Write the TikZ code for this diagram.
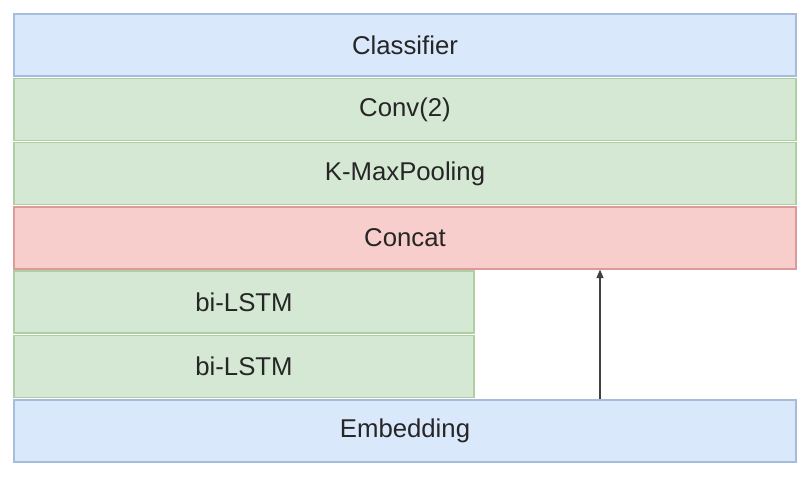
\documentclass[tikz,border=0pt]{standalone}
\usepackage{fontspec}
\setmainfont{Liberation Sans}
\usetikzlibrary{arrows.meta}

\definecolor{bluefill}{HTML}{DAE8FC}
\definecolor{blueline}{HTML}{A7BCDA}
\definecolor{greenfill}{HTML}{D5E8D4}
\definecolor{greenline}{HTML}{AECFA3}
\definecolor{redfill}{HTML}{F8CECC}
\definecolor{redline}{HTML}{DE9A98}

\tikzset{
  layer/.style={draw, line width=0.9pt, inner sep=0pt, minimum height=1.55cm,
    font=\fontsize{18.3}{22}\selectfont, text=black!85},
  bluelayer/.style={layer, fill=bluefill, draw=blueline},
  greenlayer/.style={layer, fill=greenfill, draw=greenline},
  redlayer/.style={layer, fill=redfill, draw=redline}
}

\begin{document}
\begin{tikzpicture}[x=0.025cm,y=-0.025cm]
\useasboundingbox (0,0) rectangle (803,478);
\node[bluelayer, minimum width=19.55cm] (cls) at (405,45) {Classifier};
\node[greenlayer, minimum width=19.55cm] (conv) at (405,109.5) {Conv(2)};
\node[greenlayer, minimum width=19.55cm] (pool) at (405,173.5) {K-MaxPooling};
\node[redlayer, minimum width=19.55cm] (cat) at (405,238) {Concat};
\node[greenlayer, minimum width=11.5cm] (lstmb) at (244,302) {bi-LSTM};
\node[greenlayer, minimum width=11.5cm] (lstma) at (244,366.5) {bi-LSTM};
\node[bluelayer, minimum width=19.55cm] (emb) at (405,431) {Embedding};
\coordinate (skip) at (600,0);
\draw[-{Triangle[length=6pt,width=5pt]}, line width=0.8pt, black!75] (skip |- emb.north)--(skip |- cat.south);
\end{tikzpicture}
\end{document}
